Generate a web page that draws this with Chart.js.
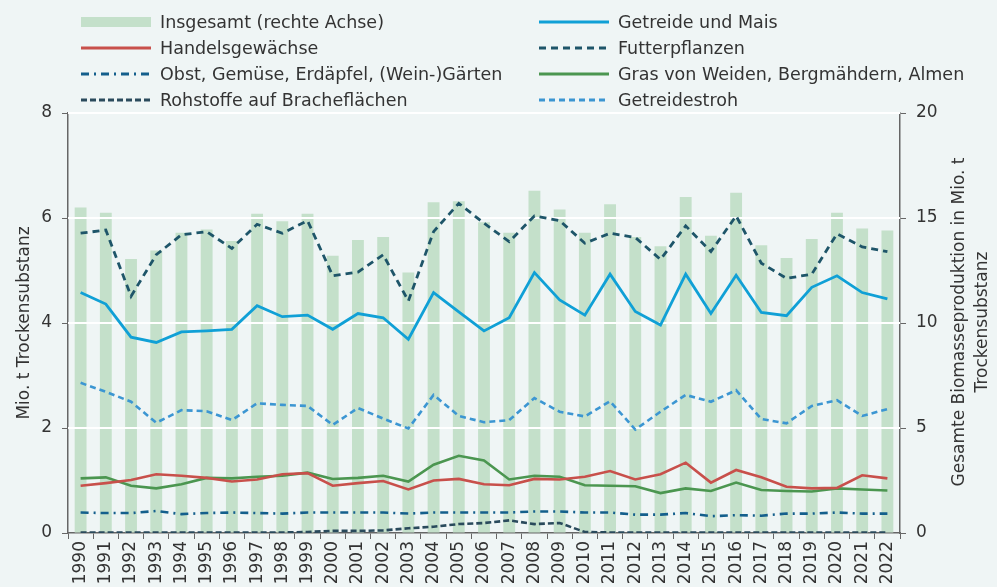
<!DOCTYPE html>
<html lang="de">
<head>
<meta charset="utf-8">
<title>Biomasseproduktion</title>
<script src="https://cdn.jsdelivr.net/npm/chart.js@4.4.0/dist/chart.umd.min.js"></script>
<style>
  html, body { margin: 0; padding: 0; background: #eff5f5; }
  #wrap { position: relative; width: 997px; height: 587px; font-family: 'DejaVu Sans', sans-serif; color: #333; }
  #chart { position: absolute; left: 0; top: 0; }
  .item { position: absolute; height: 24px; display: flex; align-items: center; font-size: 17.5px; white-space: nowrap; }
  .item svg { width: 70px; height: 16px; margin-right: 9px; flex: none; }
  #rightTitle {
    position: absolute; left: 970px; top: 322px; width: 420px;
    transform: translate(-50%, -50%) rotate(-90deg);
    text-align: center; font-size: 17px; line-height: 23px;
  }
</style>
</head>
<body>
<div id="wrap">
  <canvas id="chart" width="997" height="587"></canvas>
  <div id="legend"></div>
  <div id="rightTitle">Gesamte Biomasseproduktion in Mio. t<br>Trockensubstanz</div>
</div>
<script>
// Biomasseproduktion Österreich 1990-2022, Mio. t Trockensubstanz
const years = ['1990', '1991', '1992', '1993', '1994', '1995', '1996', '1997', '1998', '1999',
  '2000', '2001', '2002', '2003', '2004', '2005', '2006', '2007', '2008', '2009', '2010',
  '2011', '2012', '2013', '2014', '2015', '2016', '2017', '2018', '2019', '2020', '2021', '2022'];

// right axis
const insgesamt = [15.5, 15.25, 13.05, 13.45, 14.3, 14.45, 13.9, 15.2, 14.85, 15.2,
  13.2, 13.95, 14.1, 12.4, 15.75, 15.8, 14.8, 14.3, 16.3, 15.4, 14.3,
  15.65, 14.1, 13.65, 16.0, 14.15, 16.2, 13.7, 13.1, 14.0, 15.25, 14.5, 14.4];

// left axis
const getreide = [4.58, 4.36, 3.73, 3.63, 3.83, 3.85, 3.88, 4.33, 4.12, 4.15,
  3.88, 4.18, 4.1, 3.69, 4.58, 4.21, 3.85, 4.1, 4.96, 4.44, 4.15,
  4.93, 4.22, 3.96, 4.93, 4.18, 4.91, 4.2, 4.14, 4.68, 4.9, 4.58, 4.46];
const handels = [0.9, 0.95, 1.01, 1.12, 1.09, 1.05, 0.98, 1.02, 1.12, 1.14,
  0.9, 0.95, 0.99, 0.83, 1.0, 1.03, 0.93, 0.91, 1.03, 1.02, 1.07,
  1.18, 1.02, 1.12, 1.34, 0.96, 1.2, 1.06, 0.88, 0.85, 0.86, 1.1, 1.04];
const futter = [5.71, 5.77, 4.51, 5.3, 5.68, 5.74, 5.42, 5.88, 5.71, 5.95,
  4.9, 4.97, 5.3, 4.42, 5.74, 6.28, 5.9, 5.55, 6.04, 5.95, 5.52,
  5.71, 5.63, 5.21, 5.85, 5.36, 6.04, 5.14, 4.85, 4.93, 5.7, 5.45, 5.36];
const obst = [0.39, 0.38, 0.38, 0.42, 0.36, 0.38, 0.39, 0.38, 0.37, 0.39,
  0.39, 0.39, 0.39, 0.37, 0.39, 0.39, 0.39, 0.39, 0.41, 0.41, 0.39,
  0.39, 0.35, 0.35, 0.38, 0.32, 0.34, 0.33, 0.37, 0.37, 0.39, 0.37, 0.37];
const gras = [1.04, 1.06, 0.9, 0.85, 0.93, 1.05, 1.04, 1.07, 1.09, 1.15,
  1.03, 1.05, 1.09, 0.98, 1.3, 1.47, 1.38, 1.02, 1.09, 1.07, 0.91,
  0.9, 0.89, 0.76, 0.85, 0.8, 0.96, 0.82, 0.8, 0.79, 0.85, 0.83, 0.81];
const rohstoffe = [0.01, 0.01, 0.01, 0.01, 0.01, 0.01, 0.01, 0.01, 0.01, 0.02,
  0.04, 0.04, 0.05, 0.09, 0.12, 0.17, 0.19, 0.24, 0.17, 0.19, 0.02,
  0.01, 0.01, 0.01, 0.01, 0.01, 0.01, 0.01, 0.01, 0.01, 0.01, 0.01, 0.01];
const stroh = [2.86, 2.69, 2.5, 2.1, 2.34, 2.32, 2.15, 2.47, 2.44, 2.42,
  2.06, 2.38, 2.18, 1.99, 2.63, 2.23, 2.11, 2.15, 2.57, 2.31, 2.22,
  2.51, 1.97, 2.31, 2.63, 2.5, 2.72, 2.17, 2.09, 2.42, 2.53, 2.23, 2.36];

const leftTicks = [0, 2, 4, 6, 8];
const rightTicks = [0, 5, 10, 15, 20];

const FONT = "'DejaVu Sans', sans-serif";
const AXIS = '#666666';
const TEXT = '#333333';

function line(label, data, color, dash, width) {
  return {
    type: 'line', label: label, data: data, yAxisID: 'y',
    borderColor: color, backgroundColor: color, borderWidth: width || 2.6,
    borderDash: dash || [], pointRadius: 0, tension: 0, order: 0, fill: false
  };
}

// white grid lines sit on top of the bars but under the lines
const gridOverBars = {
  id: 'gridOverBars',
  afterDatasetDraw(chart, args) {
    if (args.index !== 0) return;
    const ctx = chart.ctx, area = chart.chartArea, y = chart.scales.y;
    ctx.save();
    ctx.strokeStyle = '#ffffff';
    ctx.lineWidth = 2;
    y.ticks.forEach(t => {
      if (t.value === 0) return;
      const py = Math.round(y.getPixelForValue(t.value));
      ctx.beginPath();
      ctx.moveTo(area.left, py);
      ctx.lineTo(area.right, py);
      ctx.stroke();
    });
    ctx.restore();
  }
};

const chart = new Chart(document.getElementById('chart'), {
  data: {
    labels: years,
    datasets: [
      {
        type: 'bar', label: 'Insgesamt (rechte Achse)', data: insgesamt, yAxisID: 'y1',
        backgroundColor: '#c4e0ca', borderWidth: 0, order: 10,
        barPercentage: 0.47, categoryPercentage: 1.0
      },
      line('Getreide und Mais', getreide, '#10a0d6', [], 2.8),
      line('Handelsgewächse', handels, '#c8504b'),
      line('Futterpflanzen', futter, '#1e5569', [7, 5], 2.8),
      line('Obst, Gemüse, Erdäpfel, (Wein-)Gärten', obst, '#145f8c', [8, 5, 2, 5]),
      line('Gras von Weiden, Bergmähdern, Almen', gras, '#4b9650'),
      line('Rohstoffe auf Bracheflächen', rohstoffe, '#2a4a5c', [6, 3]),
      line('Getreidestroh', stroh, '#3c96d2', [6, 4])
    ]
  },
  options: {
    responsive: false,
    animation: false,
    devicePixelRatio: 1,
    layout: { padding: { top: 113, left: 0, right: 0, bottom: 0 } },
    plugins: { legend: { display: false }, tooltip: { enabled: false } },
    scales: {
      x: {
        offset: true,
        grid: { offset: true, drawOnChartArea: false, tickLength: 6, tickColor: AXIS },
        border: { color: AXIS, width: 1.5 },
        ticks: { color: TEXT, font: { family: FONT, size: 17 }, minRotation: 90, maxRotation: 90, autoSkip: false, padding: 2 },
        afterFit(s) { s.height = 54; s.paddingLeft = 0; s.paddingRight = 0; }
      },
      y: {
        position: 'left', min: 0, max: 8,
        afterBuildTicks(s) { s.ticks = leftTicks.map(v => ({ value: v })); },
        grid: { drawOnChartArea: false, tickLength: 6, tickColor: AXIS },
        border: { color: AXIS, width: 1.5 },
        ticks: { color: TEXT, font: { family: FONT, size: 17 }, padding: 10 },
        title: { display: true, text: 'Mio. t Trockensubstanz', color: TEXT, font: { family: FONT, size: 17 }, padding: { top: 14, bottom: 0 } },
        afterFit(s) { s.width = 68; s.paddingTop = 0; s.paddingBottom = 0; }
      },
      y1: {
        position: 'right', min: 0, max: 20,
        afterBuildTicks(s) { s.ticks = rightTicks.map(v => ({ value: v })); },
        grid: { drawOnChartArea: false, tickLength: 6, tickColor: AXIS },
        border: { color: AXIS, width: 1.5 },
        ticks: { color: TEXT, font: { family: FONT, size: 17 }, padding: 10 },
        afterFit(s) { s.width = 97; s.paddingTop = 0; s.paddingBottom = 0; }
      }
    }
  },
  plugins: [gridOverBars]
});

// two-column legend, filled row by row
const legendBox = document.getElementById('legend');
const colX = [81, 539];
const rowY = [22, 48, 74, 100];
chart.data.datasets.forEach((ds, i) => {
  const item = document.createElement('div');
  item.className = 'item';
  item.style.left = colX[i % 2] + 'px';
  item.style.top = (rowY[Math.floor(i / 2)] - 12) + 'px';
  let swatch;
  if (ds.type === 'bar') {
    swatch = '<rect x="0" y="3" width="70" height="10" fill="' + ds.backgroundColor + '"/>';
  } else {
    const dash = ds.borderDash.length ? ' stroke-dasharray="' + ds.borderDash.join(' ') + '"' : '';
    swatch = '<line x1="0" y1="8" x2="70" y2="8" stroke="' + ds.borderColor + '" stroke-width="3"' + dash + '/>';
  }
  item.innerHTML = '<svg viewBox="0 0 70 16">' + swatch + '</svg><span>' + ds.label + '</span>';
  legendBox.appendChild(item);
});
</script>
</body>
</html>
